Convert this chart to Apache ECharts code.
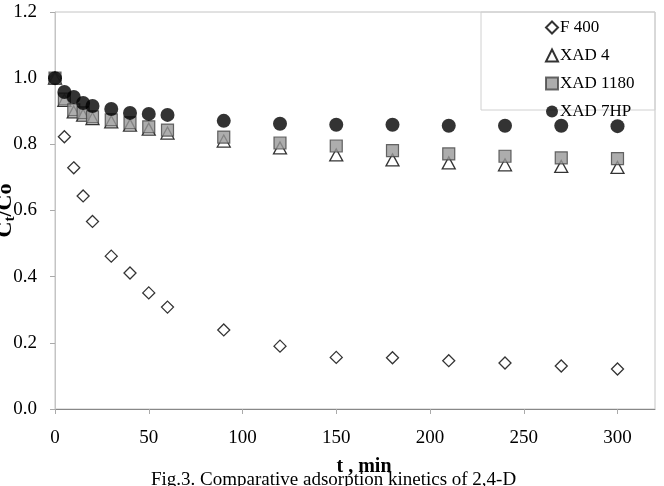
<!DOCTYPE html>
<html>
<head>
<meta charset="utf-8">
<script src="https://cdn.jsdelivr.net/npm/echarts@6/dist/echarts.min.js"></script>
<style>
  html, body { margin: 0; padding: 0; background: #fff; }
  #chart { width: 664px; height: 486px; }
</style>
</head>
<body>
<div id="chart"></div>
<script>
// 时间点 (min)
const times = [0, 5, 10, 15, 20, 30, 40, 50, 60, 90, 120, 150, 180, 210, 240, 270, 300];
const xTicks = [0, 50, 100, 150, 200, 250, 300];

// Ct/Co 读数
const f400 = [1.0, 0.823, 0.729, 0.644, 0.567, 0.462, 0.411, 0.351, 0.308, 0.239, 0.19, 0.156, 0.155, 0.146, 0.139, 0.13, 0.121];
const xad4 = [1.0, 0.933, 0.898, 0.888, 0.878, 0.868, 0.858, 0.846, 0.834, 0.81, 0.789, 0.768, 0.753, 0.744, 0.738, 0.733, 0.73];
const xad1180 = [1.0, 0.937, 0.904, 0.895, 0.883, 0.874, 0.865, 0.853, 0.843, 0.822, 0.804, 0.795, 0.781, 0.771, 0.764, 0.759, 0.757];
const xad7hp = [1.0, 0.958, 0.943, 0.925, 0.916, 0.907, 0.895, 0.892, 0.889, 0.871, 0.862, 0.859, 0.859, 0.856, 0.856, 0.856, 0.855];

const seriesNames = ['F 400', 'XAD 4', 'XAD 1180', 'XAD 7HP'];

const FONT = '"Liberation Serif", "Times New Roman", serif';

function pairs(vals) {
  return times.map((t, i) => [t, vals[i]]);
}

const chart = echarts.init(document.getElementById('chart'), null, { renderer: 'canvas' });

const option = {
  backgroundColor: '#fff',
  animation: false,
  textStyle: { fontFamily: FONT, color: '#000' },
  title: {
    text: 'Fig.3. Comparative adsorption kinetics of 2,4-D',
    left: 151,
    top: 471,
    padding: 0,
    textStyle: { fontFamily: FONT, fontSize: 19, fontWeight: 'normal', color: '#000' }
  },
  grid: {
    left: 55, top: 12, right: 9, bottom: 77,
    outerBoundsMode: 'none',
    containLabel: false,
    show: true,
    borderColor: '#c4c4c4',
    borderWidth: 1
  },
  graphic: [{
    type: 'rect',
    shape: { x: 481, y: 12, width: 174, height: 98 },
    style: { fill: 'none', stroke: '#d0d0d0', lineWidth: 1 },
    z: 1
  }],
  legend: {
    orient: 'vertical',
    left: 545,
    top: 19,
    padding: 0,
    itemWidth: 12,
    itemHeight: 12,
    itemGap: 11,
    align: 'left',
    textStyle: { fontFamily: FONT, fontSize: 17, color: '#000', padding: [0, 0, 0, -3] },
    data: seriesNames
  },
  xAxis: {
    type: 'value',
    min: 0,
    max: 320,
    interval: 50,
    name: 't , min',
    nameLocation: 'middle',
    nameGap: 48,
    nameMoveOverlap: false,
    nameTextStyle: { fontFamily: FONT, fontSize: 20, fontWeight: 'bold', color: '#000', padding: [0, 0, 0, 18] },
    axisLine: { show: true, lineStyle: { color: '#888', width: 1 } },
    axisTick: { show: true, length: 5, inside: false, customValues: xTicks, lineStyle: { color: '#aaa' } },
    axisLabel: { fontFamily: FONT, fontSize: 19, color: '#000', margin: 20, customValues: xTicks },
    splitLine: { show: false }
  },
  yAxis: {
    type: 'value',
    min: 0,
    max: 1.2,
    interval: 0.2,
    name: '{c|C}{s|t}{c|/Co}',
    nameLocation: 'middle',
    nameRotate: 90,
    nameGap: 37,
    nameMoveOverlap: false,
    nameTextStyle: {
      padding: [0, 0, 0, 0],
      rich: {
        c: { fontFamily: FONT, fontSize: 22, fontWeight: 'bold', color: '#000', lineHeight: 26 },
        s: { fontFamily: FONT, fontSize: 15, fontWeight: 'bold', color: '#000', lineHeight: 26, padding: [10, 0, 0, 0] }
      }
    },
    axisLine: { show: true, lineStyle: { color: '#c4c4c4', width: 1 } },
    axisTick: { show: true, length: 5, inside: false, lineStyle: { color: '#aaa' } },
    axisLabel: { fontFamily: FONT, fontSize: 19, color: '#000', margin: 18, formatter: v => v.toFixed(1) },
    splitLine: { show: false }
  },
  series: [
    {
      name: seriesNames[0],
      type: 'scatter',
      symbol: 'diamond',
      symbolSize: [12, 12],
      itemStyle: { color: '#fff', borderColor: '#000', borderWidth: 1.3 },
      data: pairs(f400)
    },
    {
      name: seriesNames[1],
      type: 'scatter',
      symbol: 'triangle',
      symbolSize: [13, 12],
      itemStyle: { color: '#fff', borderColor: '#000', borderWidth: 1.3 },
      data: pairs(xad4)
    },
    {
      name: seriesNames[2],
      type: 'scatter',
      symbol: 'rect',
      symbolSize: 12,
      itemStyle: { color: '#999', borderColor: '#444', borderWidth: 1.2 },
      data: pairs(xad1180)
    },
    {
      name: seriesNames[3],
      type: 'scatter',
      symbol: 'circle',
      symbolSize: 14,
      itemStyle: { color: '#000' },
      data: pairs(xad7hp)
    }
  ]
};

chart.setOption(option);
window.addEventListener('resize', () => chart && chart.resize());
</script>
</body>
</html>
